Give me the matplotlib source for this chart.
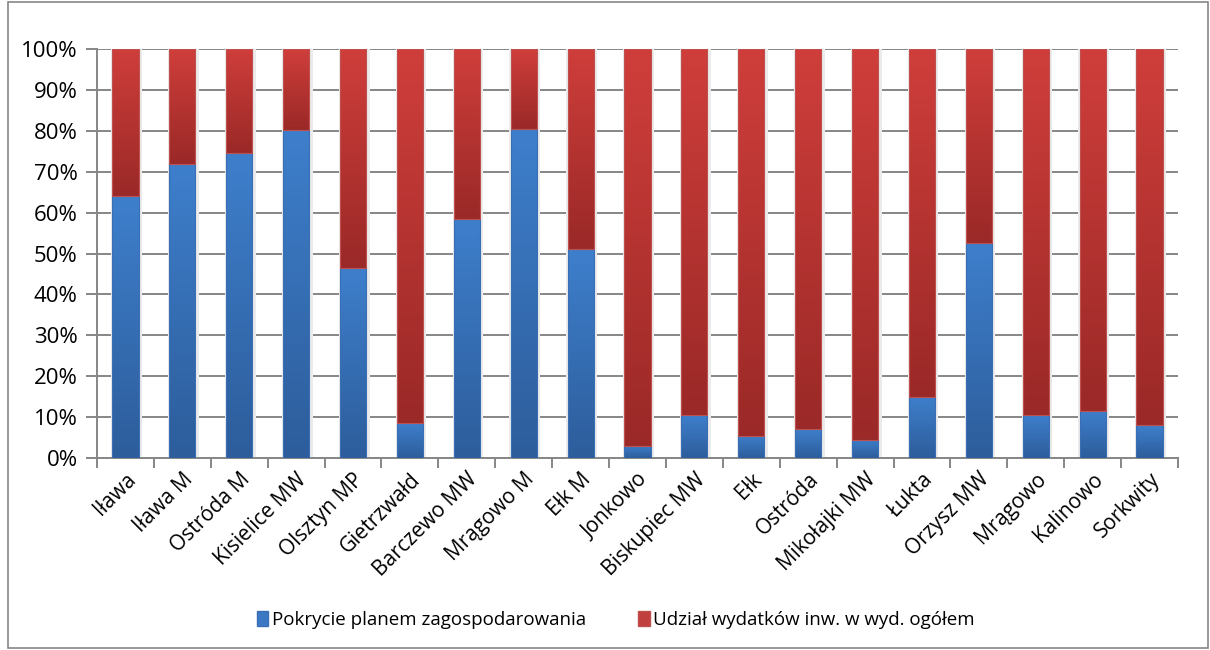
import matplotlib
matplotlib.use("Agg")
import matplotlib.pyplot as plt
import numpy as np
from matplotlib.patches import Rectangle, Patch
from matplotlib.colors import LinearSegmentedColormap

categories = ["Iława", "Iława M", "Ostróda M", "Kisielice MW", "Olsztyn MP", "Gietrzwałd",
              "Barczewo MW", "Mrągowo M", "Ełk M", "Jonkowo", "Biskupiec MW", "Ełk",
              "Ostróda", "Mikołajki MW", "Łukta", "Orzysz MW", "Mrągowo", "Kalinowo", "Sorkwity"]
pokrycie = [64.0, 72.0, 74.5, 80.2, 46.5, 8.5, 58.5, 80.5, 51.0, 3.0, 10.5, 5.5,
            7.0, 4.5, 15.0, 52.5, 10.5, 11.5, 8.0]
udzial = [100 - v for v in pokrycie]
series_names = ["Pokrycie planem zagospodarowania", "Udział wydatków inw. w wyd. ogółem"]

plt.rcParams['font.family'] = ['Open Sans', 'DejaVu Sans']

fig = plt.figure(figsize=(12.1, 6.5), dpi=100)
ax = fig.add_axes([97/1210, 1 - 458/650, (1178 - 97)/1210, (458 - 49)/650])

x = np.arange(len(categories))
w = 0.46

blue_cm = LinearSegmentedColormap.from_list("b", ["#2d5d9b", "#3e7fcc"])
red_cm = LinearSegmentedColormap.from_list("r", ["#9a2927", "#cf3e3b"])

# shadows
ax.bar(x + 0.02, 100, width=w + 0.08, color="#ebebeb", zorder=2, linewidth=0)

b1 = ax.bar(x, pokrycie, width=w, color="none", edgecolor="#3a6fb5", linewidth=0.8, zorder=4,
            label=series_names[0])
b2 = ax.bar(x, udzial, width=w, bottom=pokrycie, color="none", edgecolor="#c0504d", linewidth=0.8,
            zorder=4, label=series_names[1])

grad = np.linspace(0, 1, 256).reshape(-1, 1)
for bars, cm in ((b1, blue_cm), (b2, red_cm)):
    for rect in bars:
        x0, y0 = rect.get_x(), rect.get_y()
        wd, ht = rect.get_width(), rect.get_height()
        im = ax.imshow(grad, cmap=cm, origin="lower", aspect="auto",
                       extent=[x0, x0 + wd, y0, y0 + ht], zorder=3)
        im.set_clip_path(Rectangle((x0, y0), wd, ht, transform=ax.transData))

ax.set_xlim(-0.5, len(categories) - 0.5)
ax.set_ylim(0, 100)
ax.set_yticks(np.arange(0, 101, 10))
ax.set_yticklabels([f"{v}%" for v in range(0, 101, 10)], fontsize=16)
ax.yaxis.grid(True, color="#868686", linewidth=1.4, zorder=1)
ax.set_axisbelow(True)

ax.set_xticks(x)
ax.set_xticklabels(categories, rotation=45, ha="right", rotation_mode="anchor", fontsize=15)
ax.tick_params(axis="x", length=0, pad=8)
ax.set_xticks(np.arange(-0.5, len(categories)), minor=True)
ax.tick_params(axis="x", which="minor", length=7, color="#868686", width=1.4)
ax.tick_params(axis="y", length=8, color="#868686", width=1.4, pad=6)

for s in ["top", "right"]:
    ax.spines[s].set_visible(False)
for s in ["left", "bottom"]:
    ax.spines[s].set_color("#868686")
    ax.spines[s].set_linewidth(1.4)

handles = [Patch(facecolor="#3a78c4", edgecolor="#3a6fb5"), Patch(facecolor="#c0403d", edgecolor="#c0504d")]
fig.legend(handles, series_names, loc="center", bbox_to_anchor=(616/1210, 1 - 620/650), ncol=2,
           frameon=False, fontsize=13.5, handlelength=0.6, handleheight=0.9, handletextpad=0.2,
           columnspacing=2.8)

fig.add_artist(Rectangle((8/1210, 2/650), 1200/1210, 646/650, transform=fig.transFigure,
                         fill=False, edgecolor="#868686", linewidth=1.2))

fig.savefig("out.png", dpi=100)
